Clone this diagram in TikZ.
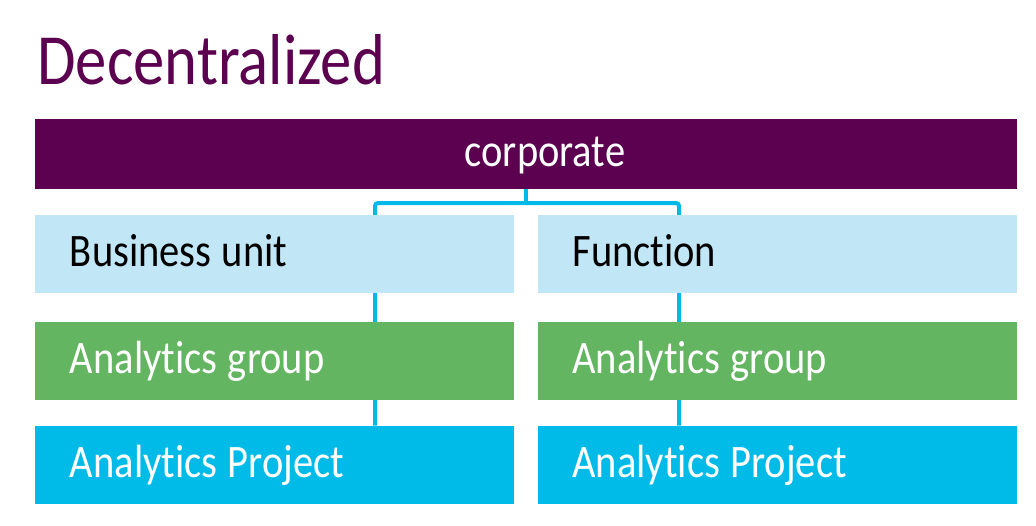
\documentclass[tikz,border=0pt]{standalone}
\usepackage{fontspec}
\setmainfont{Carlito}[FakeStretch=0.87, Ligatures=NoCommon]
\usetikzlibrary{backgrounds}
\newdimen\px \px=0.02cm
\definecolor{corppurple}{HTML}{5C0050}
\definecolor{unitblue}{HTML}{C1E6F5}
\definecolor{groupgreen}{HTML}{63B561}
\definecolor{projcyan}{HTML}{00BBE7}
\definecolor{linecyan}{HTML}{00B9E9}

\begin{document}
\begin{tikzpicture}[x=0.02cm, y=-0.02cm,
  box/.style={inner xsep=35\px, inner ysep=0pt, text width=409\px, align=left,
    minimum height=78\px, text height=30\px, text depth=6\px,
    font=\fontsize{26.5}{30}\selectfont,
    execute at begin node={\spaceskip=0.22em\relax}},
  unitbox/.style={box, fill=unitblue, text=black},
  groupbox/.style={box, fill=groupgreen, text=white},
  projbox/.style={box, fill=projcyan, text=white},
  corpbar/.style={fill=corppurple, inner sep=0pt, minimum width=982\px, minimum height=70\px},
  conn/.style={draw=linecyan, line width=4\px, rounded corners=3\px}]
  \useasboundingbox (0,0) rectangle (1036,525);
  \node[anchor=base west, inner sep=0pt, text=corppurple, font=\fontsize{41}{48}\selectfont] (title) at (37,84) {Decentralized};
  \node[corpbar, label={[xshift=19\px, yshift=-2\px, text=white, font=\fontsize{26.5}{30}\selectfont]center:corporate}] (corp) at (526,154) {};
  \node[unitbox] (bus) at (274.5,254) {Business unit};
  \node[unitbox] (fun) at (777,254) {Function};
  \node[groupbox] (grp1) at (274.5,361) {Analytics group};
  \node[groupbox] (grp2) at (777,361) {Analytics group};
  \node[projbox] (proj1) at (274.5,465) {Analytics Project};
  \node[projbox] (proj2) at (777,465) {Analytics Project};
  \coordinate (jl) at (375,203);
  \coordinate (jr) at (679,203);
  \begin{scope}[on background layer]
    \draw[conn] (corp.south) -- (corp.south |- jl);
    \draw[conn] (jl |- proj1.north) -- (jl) -- (jr) -- (jr |- proj2.north);
  \end{scope}
\end{tikzpicture}
\end{document}
